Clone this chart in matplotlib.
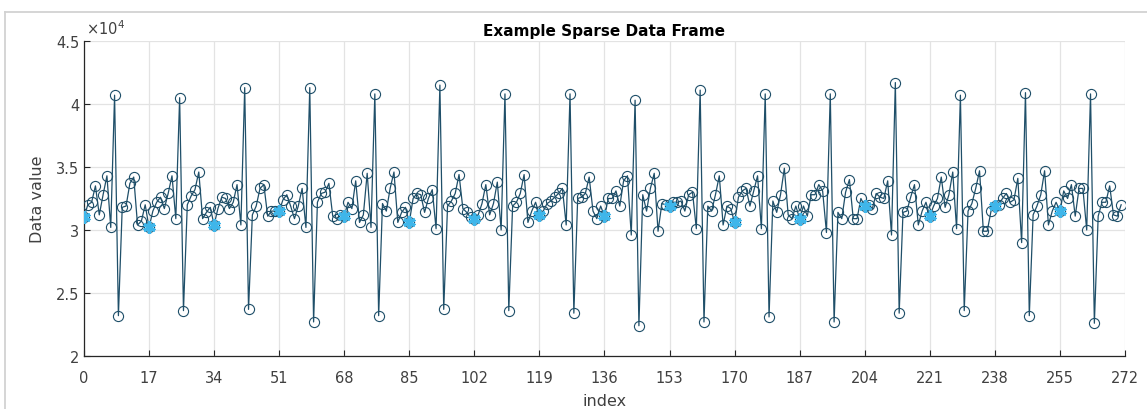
import matplotlib.pyplot as plt
from matplotlib.lines import Line2D
from matplotlib.ticker import FuncFormatter

# values in units of 1e4, one per index (0..271)
values = [
    3.10, 3.20, 3.22, 3.35, 3.12, 3.28, 3.43, 3.02, 4.07, 2.32, 3.18, 3.19, 3.37, 3.42, 3.04, 3.07, 3.20,
    3.02, 3.15, 3.22, 3.26, 3.17, 3.29, 3.43, 3.09, 4.05, 2.36, 3.20, 3.27, 3.32, 3.46, 3.09, 3.14, 3.18,
    3.04, 3.17, 3.26, 3.25, 3.17, 3.22, 3.36, 3.04, 4.13, 2.37, 3.12, 3.19, 3.33, 3.36, 3.11, 3.15, 3.15,
    3.15, 3.24, 3.28, 3.19, 3.09, 3.19, 3.33, 3.02, 4.13, 2.27, 3.22, 3.29, 3.30, 3.37, 3.11, 3.09, 3.12,
    3.11, 3.22, 3.17, 3.39, 3.06, 3.12, 3.45, 3.02, 4.08, 2.32, 3.21, 3.15, 3.33, 3.46, 3.06, 3.14, 3.18,
    3.06, 3.25, 3.29, 3.28, 3.14, 3.25, 3.32, 3.01, 4.15, 2.37, 3.19, 3.23, 3.29, 3.44, 3.17, 3.14, 3.10,
    3.09, 3.12, 3.21, 3.36, 3.12, 3.21, 3.38, 3.00, 4.08, 2.36, 3.19, 3.22, 3.29, 3.44, 3.06, 3.15, 3.22,
    3.12, 3.15, 3.21, 3.23, 3.26, 3.29, 3.33, 3.04, 4.08, 2.34, 3.25, 3.26, 3.29, 3.42, 3.15, 3.09, 3.19,
    3.11, 3.25, 3.25, 3.31, 3.19, 3.39, 3.43, 2.96, 4.03, 2.24, 3.28, 3.15, 3.33, 3.45, 2.99, 3.21, 3.20,
    3.19, 3.22, 3.22, 3.23, 3.15, 3.28, 3.30, 3.01, 4.11, 2.27, 3.19, 3.15, 3.28, 3.43, 3.04, 3.19, 3.17,
    3.06, 3.26, 3.31, 3.33, 3.19, 3.31, 3.43, 3.01, 4.08, 2.31, 3.23, 3.14, 3.28, 3.49, 3.12, 3.09, 3.19,
    3.09, 3.19, 3.11, 3.28, 3.28, 3.36, 3.31, 2.98, 4.08, 2.27, 3.14, 3.09, 3.30, 3.40, 3.09, 3.09, 3.25,
    3.19, 3.20, 3.17, 3.29, 3.26, 3.25, 3.39, 2.96, 4.17, 2.34, 3.14, 3.15, 3.26, 3.36, 3.04, 3.15, 3.22,
    3.11, 3.19, 3.25, 3.42, 3.18, 3.28, 3.46, 3.01, 4.07, 2.36, 3.15, 3.21, 3.33, 3.47, 2.99, 2.99, 3.15,
    3.19, 3.20, 3.25, 3.29, 3.22, 3.24, 3.41, 2.90, 4.09, 2.32, 3.12, 3.19, 3.28, 3.47, 3.04, 3.15, 3.22,
    3.15, 3.31, 3.25, 3.36, 3.11, 3.33, 3.33, 3.00, 4.08, 2.26, 3.11, 3.22, 3.22, 3.35, 3.12, 3.11, 3.20,
]
index = list(range(len(values)))
sparse_index = index[::17]
sparse_values = [values[i] for i in sparse_index]
x_ticks = list(range(0, 273, 17))
y_ticks = [2, 2.5, 3, 3.5, 4, 4.5]

scale = 1e4
y = [v * scale for v in values]
ys = [v * scale for v in sparse_values]

line_col = '#1f4f69'
star_col = '#3fb6ea'
axis_col = '#262626'
label_col = '#404040'
frame_col = '#d2d2d2'

plt.rcParams['font.family'] = 'DejaVu Sans'
fig = plt.figure(figsize=(11.47, 4.10), dpi=100)
# light window frame (top and left edges only)
fig.lines.append(Line2D([0.0045, 1.0], [0.968, 0.968], transform=fig.transFigure,
                        color=frame_col, linewidth=1.3))
fig.lines.append(Line2D([0.0045, 0.0045], [0.0, 0.968], transform=fig.transFigure,
                        color=frame_col, linewidth=1.3))
ax = fig.add_axes([0.0732, 0.1293, 0.9076, 0.7683])

ax.plot(index, y, color=line_col, linewidth=0.9, marker='o', markersize=7.3,
        markerfacecolor='none', markeredgecolor=line_col, markeredgewidth=0.8, zorder=3)
ax.plot(sparse_index, ys, linestyle='none', marker=(6, 2, 0), markersize=9,
        markeredgecolor=star_col, markeredgewidth=2.4, zorder=4)

ax.set_xlim(0, 272)
ax.set_ylim(2 * scale, 4.5 * scale)
ax.set_xticks(x_ticks)
ax.set_yticks([t * scale for t in y_ticks])
ax.yaxis.set_major_formatter(FuncFormatter(lambda v, p: '%g' % (v / scale)))
ax.grid(True, color='#e3e3e3', linewidth=0.9)
ax.set_axisbelow(True)
ax.tick_params(direction='in', length=4, width=0.8, colors=axis_col,
               labelcolor=label_col, labelsize=10.5)
ax.tick_params(axis='x', pad=10)
ax.spines['top'].set_visible(False)
ax.spines['right'].set_visible(False)
for side in ('left', 'bottom'):
    ax.spines[side].set_color(axis_col)
    ax.spines[side].set_linewidth(0.9)

ax.set_title('Example Sparse Data Frame', fontsize=11, fontweight='bold', color='black', pad=4)
ax.set_xlabel('index', fontsize=11.5, color=label_col, labelpad=6)
ax.set_ylabel('Data value', fontsize=11.5, color=label_col, labelpad=8)
ax.text(0.002, 1.012, r'$\times10^{4}$', transform=ax.transAxes, fontsize=10.5,
        color=label_col, ha='left', va='bottom')

fig.savefig('out.png', dpi=100)
